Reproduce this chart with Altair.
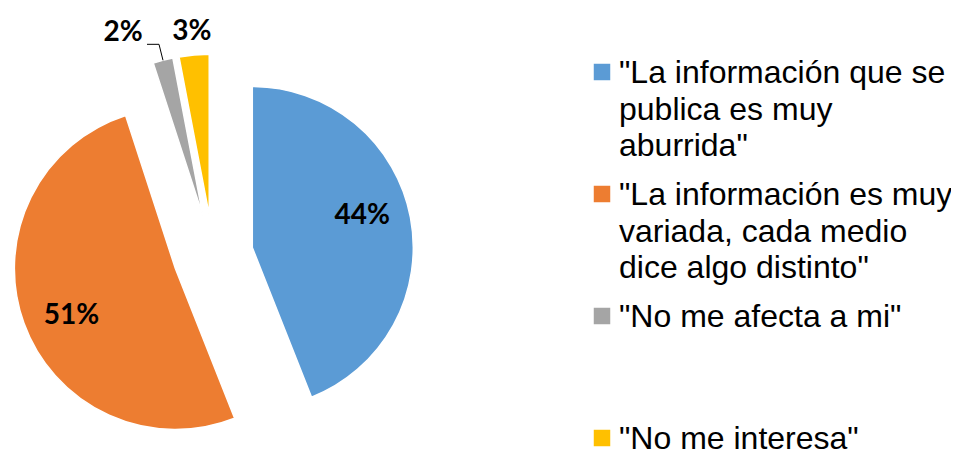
import math
import altair as alt
import pandas as pd

# ---- data ----
categories = [
    '"La información que se\npublica es muy\naburrida"',
    '"La información es muy\nvariada, cada medio\ndice algo distinto"',
    '"No me afecta a mi"',
    '"No me interesa"',
]
values = [44, 51, 2, 3]
colors = ["#5B9BD5", "#ED7D31", "#A5A5A5", "#FFC000"]

# ---- layout (pixels) ----
W, H = 943, 442
CX, CY = 205, 247      # pie centre inside the plot area
R = 161                # pie radius
E = 40 / R             # explosion distance, in radius units
LEG_TOP, LEG_STEP = 64, 122

df = pd.DataFrame({"category": categories, "value": values,
                   "order": list(range(len(values)))})

xs = alt.Scale(domain=[-CX / R, (W - CX) / R], nice=False, zero=False)
ys = alt.Scale(domain=[(CY - H) / R, CY / R], nice=False, zero=False)
color = alt.Color("category:N", scale=alt.Scale(domain=categories, range=colors), legend=None)

base = (
    alt.Chart(df)
    .transform_window(cum="sum(value)", idx="row_number()",
                      sort=[alt.SortField("order")], frame=[None, 0])
    .transform_joinaggregate(total="sum(value)")
    .transform_calculate(f1="datum.cum / datum.total",
                         f0="(datum.cum - datum.value) / datum.total")
    .transform_calculate(mid="(datum.f0 + datum.f1) * PI",
                         pct="format(datum.value / datum.total, '.0%')")
    .transform_calculate(
        ex=f"{E} * sin(datum.mid)",
        ey=f"{E} * cos(datum.mid)",
        lx=f"{E} * sin(datum.mid) + 0.71 * sin(datum.mid - 0.087)",
        ly=f"{E} * cos(datum.mid) + 0.71 * cos(datum.mid - 0.087)",
        ox="1.393 * sin(datum.mid)",
        oy="1.393 * cos(datum.mid)",
        gx=f"{E + 1.0} * sin(datum.mid)",
        gy=f"{E + 1.0} * cos(datum.mid)",
        legy=f"({CY} - {LEG_TOP} - (datum.idx - 1) * {LEG_STEP}) / {R}",
    )
    .transform_calculate(
        kx=f"datum.gx - {4 / R}",
        ky=f"datum.gy + {16 / R}",
    )
    .transform_calculate(hx=f"datum.kx - {12 / R}")
)

slices = base.mark_arc(radius=R, stroke="white", strokeWidth=1.5).encode(
    theta=alt.Theta("f0:Q", scale=alt.Scale(domain=[0, 1], range=[0, 2 * math.pi]), stack=None),
    theta2="f1:Q",
    x=alt.X("ex:Q", scale=xs, axis=None),
    y=alt.Y("ey:Q", scale=ys, axis=None),
    color=color,
)

label_font = dict(font="Lato", fontSize=28, fontWeight="bold", color="black")

inside = base.transform_filter("datum.value >= 10").mark_text(
    align="center", baseline="middle", **label_font
).encode(x=alt.X("lx:Q", scale=xs), y=alt.Y("ly:Q", scale=ys), text="pct:N")

outside = base.transform_filter("datum.value < 10 && datum.idx == 4").mark_text(
    align="center", baseline="middle", **label_font
).encode(x=alt.X("ox:Q", scale=xs), y=alt.Y("oy:Q", scale=ys), text="pct:N")

leader_a = base.transform_filter("datum.idx == 3").mark_rule(color="black", strokeWidth=1).encode(
    x=alt.X("gx:Q", scale=xs), y=alt.Y("gy:Q", scale=ys), x2="kx:Q", y2="ky:Q")
leader_b = base.transform_filter("datum.idx == 3").mark_rule(color="black", strokeWidth=1).encode(
    x=alt.X("kx:Q", scale=xs), y=alt.Y("ky:Q", scale=ys), x2="hx:Q", y2="ky:Q")
leader_label = base.transform_filter("datum.idx == 3").mark_text(
    align="center", baseline="middle", dx=-36, dy=-11, **label_font
).encode(x=alt.X("kx:Q", scale=xs), y=alt.Y("ky:Q", scale=ys), text="pct:N")

leg_sym = base.mark_square(size=272, opacity=1).encode(
    x=alt.value(594), y=alt.Y("legy:Q", scale=ys), color=color)
leg_txt = base.mark_text(
    align="left", baseline="alphabetic", dy=11, lineBreak="\n", lineHeight=36.7,
    font="Liberation Sans", fontSize=32, color="black"
).encode(x=alt.value(611), y=alt.Y("legy:Q", scale=ys), text="category:N")

chart = (
    alt.layer(slices, inside, outside, leader_a, leader_b, leader_label, leg_sym, leg_txt)
    .properties(width=W, height=H, padding=0, autosize=alt.AutoSizeParams(type="none"))
    .configure_view(stroke=None)
)

chart.save("out.html", embed_options={"renderer": "svg", "actions": False})
